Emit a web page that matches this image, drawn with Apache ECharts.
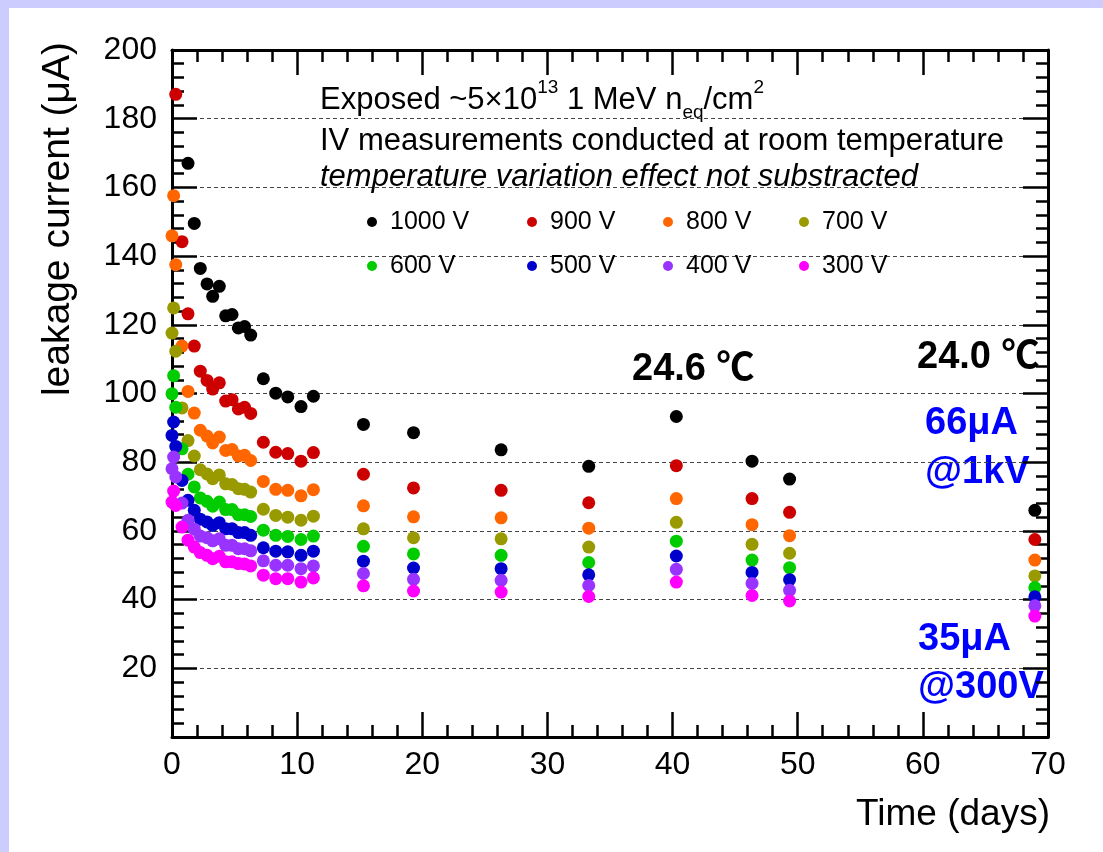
<!DOCTYPE html>
<html>
<head>
<meta charset="utf-8">
<script src="https://cdn.jsdelivr.net/npm/echarts@6/dist/echarts.min.js"></script>
<style>
  html, body { margin: 0; padding: 0; background: #fff; }
  #chart { width: 1103px; height: 852px; }
</style>
</head>
<body>
<div id="chart"></div>
<script>
// measurement times (days)
const times = [0, 0.13, 0.3, 0.8, 1.28, 1.78, 2.26, 2.8, 3.25, 3.78, 4.29, 4.8, 5.3, 5.8, 6.29,
  7.3, 8.29, 9.25, 10.31, 11.3, 15.3, 19.3, 26.3, 33.3, 40.3, 46.35, 49.35, 68.95];

// leakage current (uA) per bias voltage
const v1000 = [null, null, null, null, 167, 149.5, 136.4, 131.9, 128.3, 131.2, 122.6, 123, 119.1, 119.5, 117,
  104.3, 100.1, 99.0, 96.2, 99.2, 91.0, 88.6, 83.6, 78.8, 93.3, 80.3, 75.1, 66.0];
const v900 = [null, null, 187.1, 144.2, 123.2, 113.8, 106.5, 103.8, 101.3, 103.1, 97.8, 98.2, 95.5, 96.0, 94.2,
  85.8, 82.9, 82.5, 80.3, 82.8, 76.5, 72.5, 71.8, 68.2, 79.0, 69.4, 65.4, 57.5];
const v800 = [145.9, 157.6, 137.5, 113.8, 100.6, 94.3, 89.3, 87.6, 85.6, 87.3, 83.4, 83.7, 81.8, 82.0, 80.5,
  74.4, 72.1, 71.8, 70.2, 72.0, 67.3, 64.1, 63.8, 60.8, 69.4, 61.8, 58.6, 51.5];
const v700 = [117.6, 124.9, 112.3, 95.8, 86.3, 81.8, 77.8, 76.6, 75.2, 76.3, 73.7, 73.5, 72.3, 72.1, 71.3,
  66.3, 64.5, 64.0, 63.1, 64.3, 60.6, 58.0, 57.7, 55.3, 62.5, 56.1, 53.5, 46.9];
const v600 = [99.9, 105.2, 96.0, 83.9, 76.5, 72.8, 69.6, 68.6, 67.2, 68.4, 66.2, 66.2, 64.7, 64.7, 64.2,
  60.2, 58.7, 58.4, 57.5, 58.5, 55.5, 53.3, 52.9, 50.8, 57.0, 51.5, 49.3, 43.5];
const v500 = [87.8, 91.7, 84.6, 74.7, 68.9, 66.0, 63.4, 62.6, 61.6, 62.4, 60.6, 60.6, 59.5, 59.5, 58.7,
  55.1, 54.1, 53.9, 52.9, 54.1, 51.2, 49.2, 49.0, 47.2, 52.7, 47.9, 45.8, 40.8];
const v400 = [78.1, 81.5, 75.7, 68.1, 63.1, 60.5, 58.5, 58.0, 57.1, 57.7, 55.8, 55.8, 54.8, 54.8, 54.2,
  51.3, 50.0, 50.0, 49.0, 49.8, 47.6, 45.9, 45.6, 44.1, 48.8, 44.7, 42.7, 38.2];
const v300 = [68.4, 71.6, 67.4, 61.1, 57.3, 55.3, 53.7, 52.9, 51.9, 52.6, 51.0, 51.0, 50.5, 50.4, 49.8,
  47.1, 46.1, 46.1, 45.1, 46.3, 44.0, 42.5, 42.2, 40.9, 45.1, 41.2, 39.6, 35.2];

const seriesNames = ['1000 V', '900 V', '800 V', '700 V', '600 V', '500 V', '400 V', '300 V'];
const seriesValues = [v1000, v900, v800, v700, v600, v500, v400, v300];
const colors = ['#000000', '#cc0000', '#ff6600', '#999900', '#00cc00', '#0000cc', '#9933ff', '#ff00ff'];

const FONT = "'Liberation Sans', Arial, sans-serif";
const BOLD = "'Liberation Sans', 'Noto Sans CJK SC', sans-serif";

const chart = echarts.init(document.getElementById('chart'));

const toPairs = vals => times.map((t, i) => [t, vals[i]]).filter(p => p[1] != null);

const tickStyle = { color: '#000', width: 2.5 };

const makeX = (pos, labels) => ({
  type: 'value',
  position: pos,
  min: 0,
  max: 70,
  interval: 10,
  axisLine: { onZero: false, lineStyle: { color: '#000', width: 3 } },
  axisTick: { inside: true, length: 25, lineStyle: tickStyle },
  minorTick: { show: true, splitNumber: 5, length: 12, lineStyle: tickStyle },
  axisLabel: labels
    ? { color: '#000', fontSize: 32, fontFamily: FONT, margin: 12 }
    : { show: false },
  splitLine: { show: false }
});

const makeY = (pos, labels) => ({
  type: 'value',
  position: pos,
  min: 0,
  max: 200,
  interval: 20,
  axisLine: { onZero: false, lineStyle: { color: '#000', width: 3 } },
  axisTick: { inside: true, length: 25, lineStyle: tickStyle },
  minorTick: { show: true, splitNumber: 5, length: 12, lineStyle: tickStyle },
  axisLabel: labels
    ? { color: '#000', fontSize: 32, fontFamily: FONT, margin: 15, showMinLabel: false }
    : { show: false },
  splitLine: labels
    ? { show: true, lineStyle: { color: '#444', width: 1.2, type: [4, 3] } }
    : { show: false }
});

// legend columns: two rows of four
const legendCols = [0, 1, 2, 3].map((c, i) => ({
  orient: 'vertical',
  left: [362, 522, 658, 794][i],
  top: 202,
  data: [seriesNames[c], seriesNames[c + 4]],
  icon: 'circle',
  itemWidth: 10,
  itemHeight: 10,
  itemGap: 14,
  selectedMode: false,
  textStyle: { fontSize: 25, fontFamily: FONT, color: '#000', lineHeight: 30, padding: [0, 0, 0, 8] }
}));

const option = {
  animation: false,
  backgroundColor: '#fff',
  color: colors,
  grid: { left: 172, right: 55, top: 50, bottom: 115 },
  xAxis: [makeX('bottom', true), makeX('top', false)],
  yAxis: [makeY('left', true), makeY('right', false)],
  legend: legendCols,
  series: seriesNames.map((name, i) => ({
    name,
    type: 'scatter',
    symbol: 'circle',
    symbolSize: 13,
    itemStyle: { color: colors[i], opacity: 1 },
    data: toPairs(seriesValues[i])
  })),
  graphic: [
    { type: 'rect', left: 0, top: 0, shape: { width: 1103, height: 8 }, style: { fill: '#ccccff' } },
    { type: 'rect', left: 0, top: 0, shape: { width: 9, height: 852 }, style: { fill: '#ccccff' } },
    {
      type: 'text', x: 58, y: 219, rotation: Math.PI / 2,
      style: { text: 'leakage current (μA)', font: '39px ' + FONT, fill: '#000', align: 'center', verticalAlign: 'middle' }
    },
    {
      type: 'text', x: 1050, y: 815,
      style: { text: 'Time (days)', font: '37px ' + FONT, fill: '#000', align: 'right', verticalAlign: 'middle' }
    },
    {
      type: 'text', x: 320, y: 78,
      style: {
        text: '{n|Exposed ~5×10}{sup|13}{n| 1 MeV n}{sub|eq}{n|/cm}{sup|2}',
        verticalAlign: 'top',
        rich: {
          n: { fontSize: 31, fontFamily: FONT, lineHeight: 44, fill: '#000' },
          sup: { fontSize: 19, fontFamily: FONT, lineHeight: 19, verticalAlign: 'top', fill: '#000' },
          sub: { fontSize: 19, fontFamily: FONT, lineHeight: 19, verticalAlign: 'bottom', fill: '#000' }
        }
      }
    },
    {
      type: 'text', x: 320, y: 141,
      style: { text: 'IV measurements conducted at room temperature', font: '31px ' + FONT, fill: '#000', verticalAlign: 'middle' }
    },
    {
      type: 'text', x: 320, y: 177,
      style: { text: 'temperature variation effect not substracted', font: 'italic 31px ' + FONT, fill: '#000', verticalAlign: 'middle' }
    },
    {
      type: 'text', x: 632, y: 370,
      style: { text: '24.6 ℃', font: 'bold 38px ' + BOLD, fill: '#000', verticalAlign: 'middle' }
    },
    {
      type: 'text', x: 917, y: 358,
      style: { text: '24.0 ℃', font: 'bold 38px ' + BOLD, fill: '#000', verticalAlign: 'middle' }
    },
    {
      type: 'text', x: 925, y: 424,
      style: { text: '66μA', font: 'bold 38px ' + BOLD, fill: '#0000ff', verticalAlign: 'middle' }
    },
    {
      type: 'text', x: 925, y: 473,
      style: { text: '@1kV', font: 'bold 38px ' + BOLD, fill: '#0000ff', verticalAlign: 'middle' }
    },
    {
      type: 'text', x: 918, y: 640,
      style: { text: '35μA', font: 'bold 38px ' + BOLD, fill: '#0000ff', verticalAlign: 'middle' }
    },
    {
      type: 'text', x: 918, y: 688,
      style: { text: '@300V', font: 'bold 38px ' + BOLD, fill: '#0000ff', verticalAlign: 'middle' }
    }
  ]
};

chart.setOption(option);
</script>
</body>
</html>
